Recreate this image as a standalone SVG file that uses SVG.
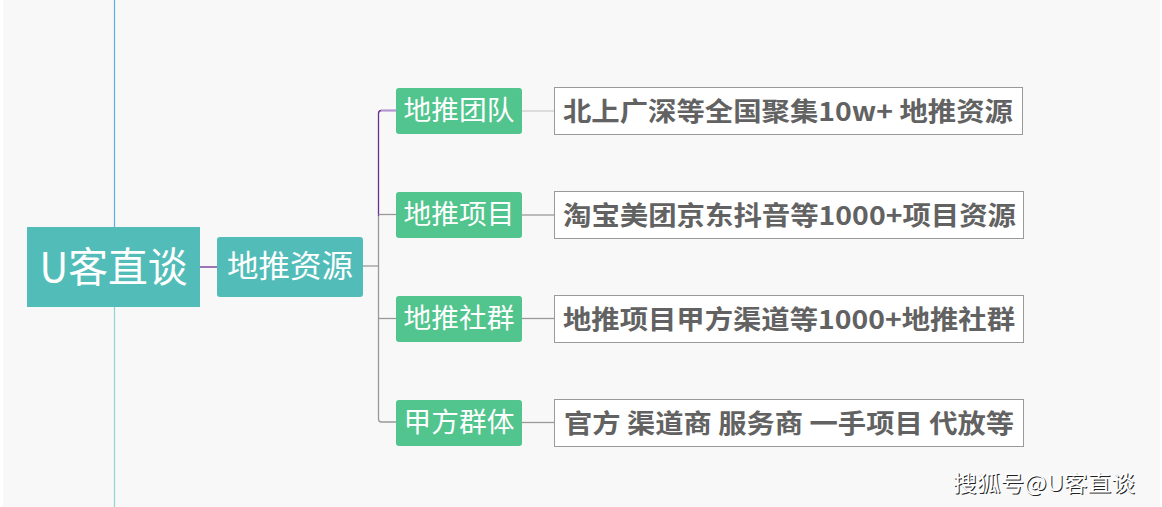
<svg xmlns="http://www.w3.org/2000/svg" width="1162" height="507" viewBox="0 0 1162 507">
<style>
.cjk{font-family:"Noto Sans CJK SC","Liberation Sans",sans-serif;}
.wt{fill:#ffffff;text-anchor:middle;}
.gbox{fill:#52c48d;}
.wbox{fill:#ffffff;stroke:#9a9a9a;stroke-width:1;}
.desc{fill:#626262;font-weight:bold;font-size:26px;}
.ln{fill:none;stroke-width:1.3;}
</style>
<rect x="0" y="0" width="1162" height="507" fill="#ffffff"/>
<rect x="3" y="0" width="1157" height="507" fill="#f8f8f8"/>
<g id="connectors">
<line x1="114.5" y1="0" x2="114.5" y2="227" stroke="#5ab0e6" stroke-width="1.2"/>
<line x1="114.5" y1="307" x2="114.5" y2="507" stroke="#8fd6cf" stroke-width="1.2"/>
<line class="ln" x1="200" y1="267" x2="217" y2="267" stroke="#6a2f8f"/>
<line class="ln" x1="363" y1="266" x2="378.5" y2="266" stroke="#999999"/>
<path class="ln" d="M396 110.5 H381.5 Q378.5 110.5 378.5 113.5 V216" stroke="#6a2f8f"/>
<line class="ln" x1="381" y1="110.5" x2="396" y2="110.5" stroke="#b794d6"/>
<path class="ln" d="M378.5 216 V419 Q378.5 422 381.5 422 H396" stroke="#999999"/>
<line class="ln" x1="378.5" y1="214.5" x2="396" y2="214.5" stroke="#999999"/>
<line class="ln" x1="378.5" y1="318.5" x2="396" y2="318.5" stroke="#999999"/>
<line class="ln" x1="522" y1="111" x2="554" y2="111" stroke="#cccccc"/>
<line class="ln" x1="522" y1="215" x2="554" y2="215" stroke="#999999"/>
<line class="ln" x1="522" y1="318.5" x2="554" y2="318.5" stroke="#999999"/>
<line class="ln" x1="522" y1="422.5" x2="554" y2="422.5" stroke="#999999"/>
</g>
<g id="root">
<rect x="27" y="227" width="173" height="80" fill="#52bdb8"/>
<text class="cjk wt" x="113.5" y="282" font-size="41" textLength="148" lengthAdjust="spacingAndGlyphs">U客直谈</text>
</g>
<g id="n-ditui">
<rect x="217" y="237" width="146" height="60" rx="3" fill="#52bdb8"/>
<text class="cjk wt" x="290" y="277" font-size="31" textLength="126" lengthAdjust="spacingAndGlyphs">地推资源</text>
</g>
<g id="n-team">
<rect class="gbox" x="396" y="88" width="126" height="46" rx="3"/>
<text class="cjk wt" x="459" y="120" font-size="27" textLength="111" lengthAdjust="spacingAndGlyphs">地推团队</text>
</g>
<g id="n-project">
<rect class="gbox" x="396" y="192" width="126" height="46" rx="3"/>
<text class="cjk wt" x="459" y="224" font-size="27" textLength="111" lengthAdjust="spacingAndGlyphs">地推项目</text>
</g>
<g id="n-group">
<rect class="gbox" x="396" y="296" width="126" height="46" rx="3"/>
<text class="cjk wt" x="459" y="328" font-size="27" textLength="111" lengthAdjust="spacingAndGlyphs">地推社群</text>
</g>
<g id="n-party">
<rect class="gbox" x="396" y="400" width="126" height="46" rx="3"/>
<text class="cjk wt" x="459" y="432" font-size="27" textLength="111" lengthAdjust="spacingAndGlyphs">甲方群体</text>
</g>
<g id="d-team">
<rect class="wbox" x="554.5" y="87.5" width="468" height="47"/>
<text class="cjk desc" x="563" y="121" textLength="450" lengthAdjust="spacingAndGlyphs">北上广深等全国聚集10w+ 地推资源</text>
</g>
<g id="d-project">
<rect class="wbox" x="554.5" y="191.5" width="469" height="47"/>
<text class="cjk desc" x="563" y="225" textLength="453" lengthAdjust="spacingAndGlyphs">淘宝美团京东抖音等1000+项目资源</text>
</g>
<g id="d-group">
<rect class="wbox" x="554.5" y="295.5" width="469" height="47"/>
<text class="cjk desc" x="563" y="329" textLength="452" lengthAdjust="spacingAndGlyphs">地推项目甲方渠道等1000+地推社群</text>
</g>
<g id="d-party">
<rect class="wbox" x="554.5" y="399.5" width="469" height="47"/>
<text class="cjk desc" x="564" y="433" textLength="450" lengthAdjust="spacingAndGlyphs">官方 渠道商 服务商 一手项目 代放等</text>
</g>
<g id="watermark">
<text class="cjk" x="954" y="492" font-size="22" fill="#222222" textLength="182" lengthAdjust="spacingAndGlyphs">搜狐号@U客直谈</text>
<text class="cjk" x="953" y="491" font-size="22" fill="#ffffff" textLength="182" lengthAdjust="spacingAndGlyphs">搜狐号@U客直谈</text>
</g>
</svg>
